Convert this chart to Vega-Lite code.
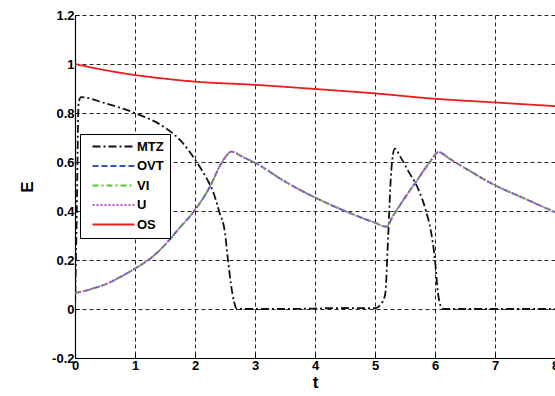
{
  "$schema": "https://vega.github.io/schema/vega-lite/v6.json",
  "width": 480,
  "height": 343,
  "autosize": {"type": "none"},
  "padding": {"left": 75, "top": 15, "right": 0, "bottom": 38},
  "background": "white",
  "config": {
    "view": {"stroke": null},
    "font": "Liberation Sans"
  },
  "datasets": {
    "curves": [
      {"series": "MTZ", "t": 0, "E": 0},
      {"series": "MTZ", "t": 0.03, "E": 0.4},
      {"series": "MTZ", "t": 0.06, "E": 0.84},
      {"series": "MTZ", "t": 0.1, "E": 0.865},
      {"series": "MTZ", "t": 0.5, "E": 0.84},
      {"series": "MTZ", "t": 1.0, "E": 0.8},
      {"series": "MTZ", "t": 1.5, "E": 0.74},
      {"series": "MTZ", "t": 1.75, "E": 0.69},
      {"series": "MTZ", "t": 2.0, "E": 0.61},
      {"series": "MTZ", "t": 2.2, "E": 0.53},
      {"series": "MTZ", "t": 2.3, "E": 0.48},
      {"series": "MTZ", "t": 2.4, "E": 0.40},
      {"series": "MTZ", "t": 2.5, "E": 0.31},
      {"series": "MTZ", "t": 2.55, "E": 0.2},
      {"series": "MTZ", "t": 2.6, "E": 0.1},
      {"series": "MTZ", "t": 2.65, "E": 0.03},
      {"series": "MTZ", "t": 2.7, "E": 0},
      {"series": "MTZ", "t": 3.5, "E": 0},
      {"series": "MTZ", "t": 4.5, "E": 0.004},
      {"series": "MTZ", "t": 5.0, "E": 0.003},
      {"series": "MTZ", "t": 5.1, "E": 0.02},
      {"series": "MTZ", "t": 5.17, "E": 0.06},
      {"series": "MTZ", "t": 5.22, "E": 0.3},
      {"series": "MTZ", "t": 5.27, "E": 0.56},
      {"series": "MTZ", "t": 5.33, "E": 0.655},
      {"series": "MTZ", "t": 5.42, "E": 0.622},
      {"series": "MTZ", "t": 5.55, "E": 0.565},
      {"series": "MTZ", "t": 5.72, "E": 0.49},
      {"series": "MTZ", "t": 5.85, "E": 0.4},
      {"series": "MTZ", "t": 5.93, "E": 0.32},
      {"series": "MTZ", "t": 6.0, "E": 0.2},
      {"series": "MTZ", "t": 6.05, "E": 0.065},
      {"series": "MTZ", "t": 6.1, "E": 0.01},
      {"series": "MTZ", "t": 6.15, "E": 0},
      {"series": "MTZ", "t": 8, "E": 0},

      {"series": "OS", "t": 0, "E": 1.0},
      {"series": "OS", "t": 0.5, "E": 0.975},
      {"series": "OS", "t": 1, "E": 0.955},
      {"series": "OS", "t": 1.5, "E": 0.94},
      {"series": "OS", "t": 2, "E": 0.928},
      {"series": "OS", "t": 3, "E": 0.915},
      {"series": "OS", "t": 4, "E": 0.898},
      {"series": "OS", "t": 5, "E": 0.88},
      {"series": "OS", "t": 6, "E": 0.858},
      {"series": "OS", "t": 7, "E": 0.843},
      {"series": "OS", "t": 8, "E": 0.828},

      {"series": "OVT", "t": 0, "E": 0.065},
      {"series": "OVT", "t": 0.25, "E": 0.08},
      {"series": "OVT", "t": 0.5, "E": 0.1},
      {"series": "OVT", "t": 0.75, "E": 0.13},
      {"series": "OVT", "t": 1.0, "E": 0.165},
      {"series": "OVT", "t": 1.25, "E": 0.205},
      {"series": "OVT", "t": 1.5, "E": 0.262},
      {"series": "OVT", "t": 1.75, "E": 0.333},
      {"series": "OVT", "t": 2.0, "E": 0.404},
      {"series": "OVT", "t": 2.25, "E": 0.50},
      {"series": "OVT", "t": 2.44, "E": 0.595},
      {"series": "OVT", "t": 2.61, "E": 0.642},
      {"series": "OVT", "t": 2.8, "E": 0.62},
      {"series": "OVT", "t": 3.0, "E": 0.597},
      {"series": "OVT", "t": 3.5, "E": 0.52},
      {"series": "OVT", "t": 4.0, "E": 0.455},
      {"series": "OVT", "t": 4.5, "E": 0.4},
      {"series": "OVT", "t": 4.75, "E": 0.375},
      {"series": "OVT", "t": 5.0, "E": 0.352},
      {"series": "OVT", "t": 5.19, "E": 0.336},
      {"series": "OVT", "t": 5.3, "E": 0.38},
      {"series": "OVT", "t": 5.5, "E": 0.455},
      {"series": "OVT", "t": 5.7, "E": 0.525},
      {"series": "OVT", "t": 5.9, "E": 0.595},
      {"series": "OVT", "t": 6.06, "E": 0.64},
      {"series": "OVT", "t": 6.25, "E": 0.612},
      {"series": "OVT", "t": 6.5, "E": 0.575},
      {"series": "OVT", "t": 7.0, "E": 0.505},
      {"series": "OVT", "t": 7.5, "E": 0.45},
      {"series": "OVT", "t": 8.0, "E": 0.395},

      {"series": "VI", "t": 0, "E": 0.065},
      {"series": "VI", "t": 0.25, "E": 0.08},
      {"series": "VI", "t": 0.5, "E": 0.1},
      {"series": "VI", "t": 0.75, "E": 0.13},
      {"series": "VI", "t": 1.0, "E": 0.165},
      {"series": "VI", "t": 1.25, "E": 0.205},
      {"series": "VI", "t": 1.5, "E": 0.262},
      {"series": "VI", "t": 1.75, "E": 0.333},
      {"series": "VI", "t": 2.0, "E": 0.404},
      {"series": "VI", "t": 2.25, "E": 0.50},
      {"series": "VI", "t": 2.44, "E": 0.595},
      {"series": "VI", "t": 2.61, "E": 0.642},
      {"series": "VI", "t": 2.8, "E": 0.62},
      {"series": "VI", "t": 3.0, "E": 0.597},
      {"series": "VI", "t": 3.5, "E": 0.52},
      {"series": "VI", "t": 4.0, "E": 0.455},
      {"series": "VI", "t": 4.5, "E": 0.4},
      {"series": "VI", "t": 4.75, "E": 0.375},
      {"series": "VI", "t": 5.0, "E": 0.352},
      {"series": "VI", "t": 5.19, "E": 0.336},
      {"series": "VI", "t": 5.3, "E": 0.38},
      {"series": "VI", "t": 5.5, "E": 0.455},
      {"series": "VI", "t": 5.7, "E": 0.525},
      {"series": "VI", "t": 5.9, "E": 0.595},
      {"series": "VI", "t": 6.06, "E": 0.64},
      {"series": "VI", "t": 6.25, "E": 0.612},
      {"series": "VI", "t": 6.5, "E": 0.575},
      {"series": "VI", "t": 7.0, "E": 0.505},
      {"series": "VI", "t": 7.5, "E": 0.45},
      {"series": "VI", "t": 8.0, "E": 0.395},

      {"series": "U", "t": 0, "E": 0.065},
      {"series": "U", "t": 0.25, "E": 0.08},
      {"series": "U", "t": 0.5, "E": 0.1},
      {"series": "U", "t": 0.75, "E": 0.13},
      {"series": "U", "t": 1.0, "E": 0.165},
      {"series": "U", "t": 1.25, "E": 0.205},
      {"series": "U", "t": 1.5, "E": 0.262},
      {"series": "U", "t": 1.75, "E": 0.333},
      {"series": "U", "t": 2.0, "E": 0.404},
      {"series": "U", "t": 2.25, "E": 0.50},
      {"series": "U", "t": 2.44, "E": 0.595},
      {"series": "U", "t": 2.61, "E": 0.642},
      {"series": "U", "t": 2.8, "E": 0.62},
      {"series": "U", "t": 3.0, "E": 0.597},
      {"series": "U", "t": 3.5, "E": 0.52},
      {"series": "U", "t": 4.0, "E": 0.455},
      {"series": "U", "t": 4.5, "E": 0.4},
      {"series": "U", "t": 4.75, "E": 0.375},
      {"series": "U", "t": 5.0, "E": 0.352},
      {"series": "U", "t": 5.19, "E": 0.336},
      {"series": "U", "t": 5.3, "E": 0.38},
      {"series": "U", "t": 5.5, "E": 0.455},
      {"series": "U", "t": 5.7, "E": 0.525},
      {"series": "U", "t": 5.9, "E": 0.595},
      {"series": "U", "t": 6.06, "E": 0.64},
      {"series": "U", "t": 6.25, "E": 0.612},
      {"series": "U", "t": 6.5, "E": 0.575},
      {"series": "U", "t": 7.0, "E": 0.505},
      {"series": "U", "t": 7.5, "E": 0.45},
      {"series": "U", "t": 8.0, "E": 0.395}
    ]
  },
  "data": {"name": "curves"},
  "mark": {"type": "line", "interpolate": "monotone", "strokeWidth": 1.8, "clip": true},
  "encoding": {
    "x": {
      "field": "t", "type": "quantitative",
      "scale": {"domain": [0, 8], "nice": false, "zero": false},
      "axis": {
        "title": "t", "titleFontSize": 17, "titleFontWeight": "bold", "titlePadding": 2,
        "values": [0, 1, 2, 3, 4, 5, 6, 7, 8],
        "labelFontSize": 13, "labelFontWeight": "bold", "labelColor": "#000", "labelPadding": 5,
        "labelFlush": false,
        "domainColor": "#000", "domainWidth": 1.2,
        "tickColor": "#000", "tickSize": -4,
        "grid": true, "gridColor": "#000", "gridDash": [4, 3], "gridOpacity": 0.85, "gridWidth": 1
      }
    },
    "y": {
      "field": "E", "type": "quantitative",
      "scale": {"domain": [-0.2, 1.2], "nice": false, "zero": false},
      "axis": {
        "title": "E", "titleFontSize": 17, "titleFontWeight": "bold", "titlePadding": 15,
        "values": [-0.2, 0, 0.2, 0.4, 0.6, 0.8, 1, 1.2],
        "labelExpr": "toString(datum.value)",
        "labelFontSize": 13, "labelFontWeight": "bold", "labelColor": "#000", "labelPadding": 5,
        "labelFlush": false,
        "domainColor": "#000", "domainWidth": 1.2,
        "tickColor": "#000", "tickSize": -4,
        "grid": true, "gridColor": "#000", "gridDash": [4, 3], "gridOpacity": 0.85, "gridWidth": 1
      }
    },
    "color": {
      "field": "series", "type": "nominal",
      "scale": {
        "domain": ["MTZ", "OVT", "VI", "U", "OS"],
        "range": ["#111111", "#3355c8", "#5cc03c", "#c050c8", "#ee1c1c"]
      },
      "legend": {
        "title": null, "orient": "none", "legendX": 5, "legendY": 119,
        "symbolType": "M0,0H8", "symbolSize": 110, "symbolStrokeWidth": 2,
        "labelFontSize": 13, "labelFontWeight": "bold", "labelColor": "#000", "labelOffset": 38,
        "rowPadding": 5.5, "padding": 6,
        "strokeColor": "#000", "fillColor": "white"
      }
    },
    "strokeDash": {
      "field": "series", "type": "nominal",
      "scale": {
        "domain": ["MTZ", "OVT", "VI", "U", "OS"],
        "range": [[8, 3, 2, 3], [6, 3], [6, 3, 2, 3], [2, 2], [1, 0]]
      },
      "legend": null
    },
    "order": {"field": "t", "type": "quantitative"}
  }
}
